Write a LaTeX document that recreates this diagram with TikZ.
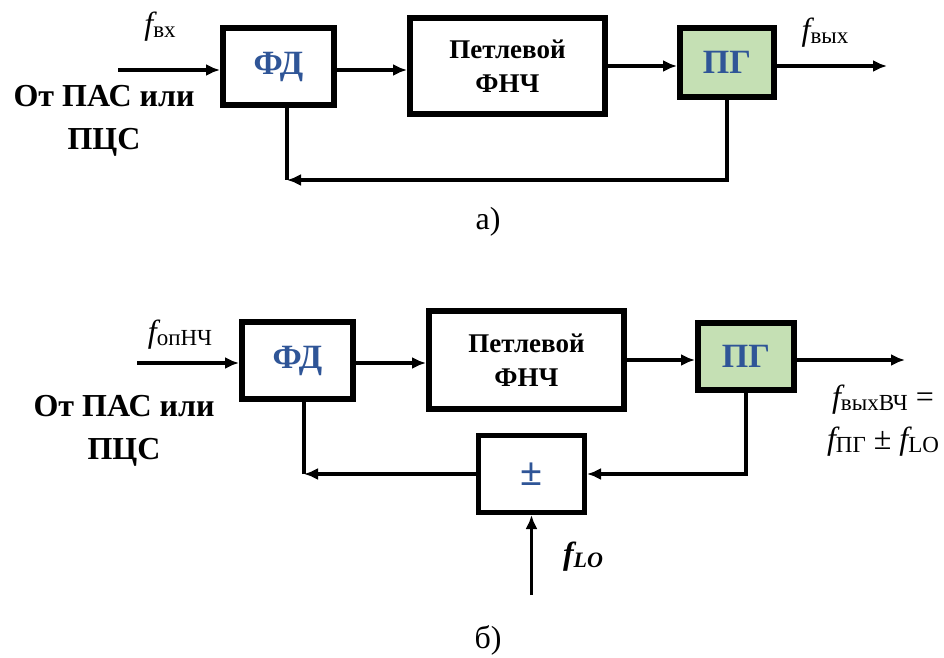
\documentclass[tikz,border=0pt]{standalone}
\usepackage{fontspec}
\setmainfont{LiberationSerif}[Extension=.ttf, UprightFont=*-Regular, BoldFont=*-Bold, ItalicFont=*-Italic, BoldItalicFont=*-BoldItalic]
\usepackage{tikz}
\usetikzlibrary{arrows.meta}
\definecolor{blkblue}{RGB}{47,85,151}
\definecolor{pggreen}{RGB}{197,224,180}
\tikzstyle{blk_w} = [rectangle, draw=black, fill=white, line width=2.8pt, align=center, inner sep=0pt, text centered, font=\fontsize{13.5}{17}\selectfont\bfseries]
\tikzstyle{blk_c} = [blk_w, text=blkblue, font=\fontsize{17}{17}\selectfont\bfseries]
\tikzstyle{blk_g} = [blk_c, fill=pggreen]
\tikzstyle{src_t} = [align=center, inner sep=0pt, font=\fontsize{16}{21.5}\selectfont\bfseries]
\tikzstyle{lbl_t} = [align=center, inner sep=0pt, font=\fontsize{16}{21}\selectfont]
\newcommand{\fsub}[1]{{\itshape f}\raisebox{-0.15ex}{\fontsize{11.5}{11.5}\selectfont #1}}

\begin{document}
\begin{tikzpicture}[->,>={Latex[length=7pt,width=6pt]},line width=1.6pt,x=0.5pt,y=-0.5pt]
\useasboundingbox (0,0) rectangle (944,658);
% a)
\node [blk_c, minimum width=55.7pt, minimum height=38.7pt] (fdA) at (278.5,66.5) {ФД};
\node [blk_w, minimum width=97.7pt, minimum height=48.2pt] (fnchA) at (507.5,66) {Петлевой\\ФНЧ};
\node [blk_g, minimum width=47.2pt, minimum height=34.7pt] (pgA) at (727,62.5) {ПГ};
\coordinate (inA) at (118,70);
\coordinate (outA) at (887,66);
\coordinate (cornA) at (287,180);
\draw (inA) -- (fdA.west |- inA);
\draw (fdA.east |- inA) -- (fnchA.west |- inA);
\draw (fnchA.east) -- (pgA.west |- fnchA.east);
\draw (pgA.east |- fnchA.east) -- (outA);
\draw (pgA.south) |- (cornA);
\draw [-] (cornA) -- (cornA |- fdA.south);
\node [lbl_t] (fvxA) at (160,27) {\fsub{вх}};
\node [lbl_t] (fvyxA) at (825,33) {\fsub{вых}};
\node [src_t] (srcA) at (104,121) {От ПАС или\\ПЦС};
\node [lbl_t] (capA) at (488,222) {а)};
% b)
\node [blk_c, minimum width=55.7pt, minimum height=38.7pt] (fdB) at (297.5,360.5) {ФД};
\node [blk_w, minimum width=97.7pt, minimum height=49.2pt] (fnchB) at (526.5,360) {Петлевой\\ФНЧ};
\node [blk_g, minimum width=48.2pt, minimum height=33.7pt] (pgB) at (746,356.5) {ПГ};
\node [blk_c, line width=2.5pt, minimum width=53pt, minimum height=38.5pt, font=\fontsize{20}{20}\selectfont\bfseries] (pm) at (531.5,474) {±};
\coordinate (inB) at (137,363);
\coordinate (outB) at (905,360);
\coordinate (cornB) at (304,474);
\coordinate (loB) at (531.5,595);
\draw (inB) -- (fdB.west |- inB);
\draw (fdB.east |- inB) -- (fnchB.west |- inB);
\draw (fnchB.east) -- (pgB.west |- fnchB.east);
\draw (pgB.east |- fnchB.east) -- (outB);
\draw (pgB.south) |- (pm.east);
\draw (pm.west) -- (cornB);
\draw [-] (cornB) -- (cornB |- fdB.south);
\draw (loB) -- (pm.south);
\node [lbl_t] (fopB) at (180,335) {\fsub{опНЧ}};
\node [src_t] (srcB) at (124,431) {От ПАС или\\ПЦС};
\node [lbl_t] (foutB) at (883,421) {\fsub{выхВЧ} =\\\fsub{ПГ} ± \fsub{LO}};
\node [lbl_t, font=\fontsize{16}{16}\selectfont\bfseries\itshape] (fLO) at (583,557) {f\raisebox{-0.15ex}{\fontsize{11}{11}\selectfont LO}};
\node [lbl_t] (capB) at (488,640) {б)};
\end{tikzpicture}
\end{document}
